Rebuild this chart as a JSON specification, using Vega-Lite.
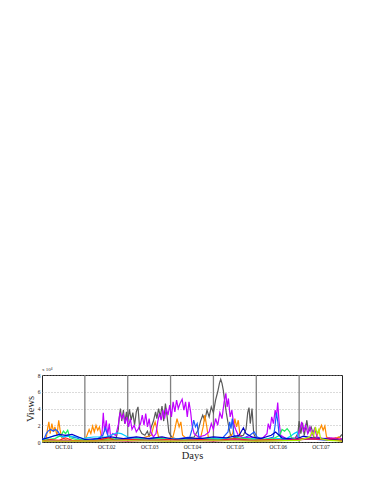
{
"$schema": "https://vega.github.io/schema/vega-lite/v6.json",
"width": 300, "height": 67,
"autosize": {"type": "none"},
"padding": {"left": 42, "top": 375, "right": 32, "bottom": 42},
"config": {"view": {"stroke": "#222", "strokeWidth": 1}, "font": "Liberation Serif"},
"title": {"text": "x 10⁴", "anchor": "start", "frame": "group", "fontSize": 5, "fontWeight": "normal", "color": "#333", "offset": 1.5, "font": "Liberation Serif"},
"encoding": {
  "x": {"field": "t", "type": "quantitative", "scale": {"domain": [0, 7], "nice": false},
        "axis": {"values": [0.5, 1.5, 2.5, 3.5, 4.5, 5.5, 6.5], "labelExpr": "'OCT.0' + (floor(datum.value) + 1)", "grid": false, "ticks": false, "domain": false, "labelFontSize": 5.5, "labelColor": "#222", "labelPadding": 2, "title": "Days", "titleFontSize": 10.5, "titleFontWeight": "normal", "titleColor": "#222", "titlePadding": 1, "labelFont": "Liberation Serif", "titleFont": "Liberation Serif"}}
},
"layer": [
{"data": {"values": [{"t": 1}, {"t": 2}, {"t": 3}, {"t": 4}, {"t": 5}, {"t": 6}]},
 "mark": {"type": "rule", "color": "#808080", "strokeWidth": 1.3},
 "encoding": {}},
{"data": {"values": [
{"s":"s01","t":0,"v":0.1},{"s":"s01","t":0.5,"v":0.15},{"s":"s01","t":1.0,"v":0.1},{"s":"s01","t":1.5,"v":0.2},{"s":"s01","t":1.72,"v":0.3},{"s":"s01","t":1.78,"v":1.5},{"s":"s01","t":1.8,"v":2.8},{"s":"s01","t":1.83,"v":4.0},{"s":"s01","t":1.86,"v":2.5},{"s":"s01","t":1.9,"v":3.8},{"s":"s01","t":1.93,"v":2.2},{"s":"s01","t":1.97,"v":3.6},{"s":"s01","t":2.0,"v":2.4},{"s":"s01","t":2.04,"v":3.9},{"s":"s01","t":2.08,"v":2.6},{"s":"s01","t":2.12,"v":3.5},{"s":"s01","t":2.16,"v":2.0},{"s":"s01","t":2.2,"v":3.6},{"s":"s01","t":2.24,"v":4.2},{"s":"s01","t":2.28,"v":1.5},{"s":"s01","t":2.33,"v":1.0},{"s":"s01","t":2.4,"v":0.8},{"s":"s01","t":2.46,"v":1.3},{"s":"s01","t":2.5,"v":0.6},{"s":"s01","t":2.55,"v":1.8},{"s":"s01","t":2.6,"v":2.5},{"s":"s01","t":2.65,"v":3.6},{"s":"s01","t":2.68,"v":2.8},{"s":"s01","t":2.72,"v":4.0},{"s":"s01","t":2.76,"v":3.0},{"s":"s01","t":2.8,"v":4.3},{"s":"s01","t":2.84,"v":2.5},{"s":"s01","t":2.88,"v":4.6},{"s":"s01","t":2.92,"v":3.0},{"s":"s01","t":2.96,"v":1.2},{"s":"s01","t":3.0,"v":0.8},{"s":"s01","t":3.05,"v":0.5},{"s":"s01","t":3.2,"v":0.3},{"s":"s01","t":3.4,"v":0.5},{"s":"s01","t":3.55,"v":0.6},{"s":"s01","t":3.65,"v":1.5},{"s":"s01","t":3.7,"v":2.5},{"s":"s01","t":3.75,"v":3.2},{"s":"s01","t":3.8,"v":2.6},{"s":"s01","t":3.85,"v":3.8},{"s":"s01","t":3.9,"v":3.0},{"s":"s01","t":3.95,"v":4.2},{"s":"s01","t":4.0,"v":3.5},{"s":"s01","t":4.05,"v":5.0},{"s":"s01","t":4.1,"v":6.0},{"s":"s01","t":4.14,"v":7.0},{"s":"s01","t":4.17,"v":7.5},{"s":"s01","t":4.2,"v":7.0},{"s":"s01","t":4.23,"v":6.2},{"s":"s01","t":4.26,"v":5.0},{"s":"s01","t":4.3,"v":3.5},{"s":"s01","t":4.35,"v":2.0},{"s":"s01","t":4.4,"v":0.8},{"s":"s01","t":4.5,"v":0.5},{"s":"s01","t":4.6,"v":0.7},{"s":"s01","t":4.7,"v":0.8},{"s":"s01","t":4.76,"v":1.5},{"s":"s01","t":4.8,"v":3.5},{"s":"s01","t":4.83,"v":4.1},{"s":"s01","t":4.86,"v":2.2},{"s":"s01","t":4.9,"v":4.0},{"s":"s01","t":4.94,"v":1.0},{"s":"s01","t":5.0,"v":0.3},{"s":"s01","t":5.3,"v":0.2},{"s":"s01","t":5.6,"v":0.3},{"s":"s01","t":5.9,"v":0.4},{"s":"s01","t":5.97,"v":1.0},{"s":"s01","t":6.0,"v":2.5},{"s":"s01","t":6.04,"v":1.0},{"s":"s01","t":6.08,"v":2.3},{"s":"s01","t":6.12,"v":0.8},{"s":"s01","t":6.18,"v":2.6},{"s":"s01","t":6.22,"v":1.2},{"s":"s01","t":6.28,"v":1.8},{"s":"s01","t":6.35,"v":0.5},{"s":"s01","t":6.5,"v":0.3},{"s":"s01","t":6.7,"v":0.5},{"s":"s01","t":6.8,"v":0.2},{"s":"s01","t":6.95,"v":0.6},{"s":"s01","t":7.0,"v":0.9},
{"s":"s02","t":0,"v":0.1},{"s":"s02","t":0.1,"v":0.5},{"s":"s02","t":0.13,"v":1.6},{"s":"s02","t":0.16,"v":2.4},{"s":"s02","t":0.19,"v":1.0},{"s":"s02","t":0.23,"v":2.2},{"s":"s02","t":0.27,"v":1.2},{"s":"s02","t":0.3,"v":1.8},{"s":"s02","t":0.35,"v":0.8},{"s":"s02","t":0.39,"v":2.6},{"s":"s02","t":0.42,"v":1.5},{"s":"s02","t":0.46,"v":0.5},{"s":"s02","t":0.6,"v":0.2},{"s":"s02","t":1.0,"v":0.2},{"s":"s02","t":1.05,"v":0.8},{"s":"s02","t":1.1,"v":1.5},{"s":"s02","t":1.14,"v":1.0},{"s":"s02","t":1.18,"v":1.9},{"s":"s02","t":1.22,"v":1.2},{"s":"s02","t":1.26,"v":2.0},{"s":"s02","t":1.3,"v":1.4},{"s":"s02","t":1.34,"v":1.8},{"s":"s02","t":1.38,"v":0.8},{"s":"s02","t":1.45,"v":0.3},{"s":"s02","t":2.0,"v":0.3},{"s":"s02","t":2.3,"v":0.4},{"s":"s02","t":2.55,"v":0.8},{"s":"s02","t":2.6,"v":1.8},{"s":"s02","t":2.64,"v":2.4},{"s":"s02","t":2.68,"v":1.5},{"s":"s02","t":2.72,"v":0.6},{"s":"s02","t":2.9,"v":0.4},{"s":"s02","t":3.05,"v":0.5},{"s":"s02","t":3.1,"v":1.5},{"s":"s02","t":3.15,"v":2.8},{"s":"s02","t":3.2,"v":1.8},{"s":"s02","t":3.24,"v":2.4},{"s":"s02","t":3.28,"v":0.8},{"s":"s02","t":3.4,"v":0.3},{"s":"s02","t":3.7,"v":0.5},{"s":"s02","t":3.76,"v":1.8},{"s":"s02","t":3.8,"v":3.2},{"s":"s02","t":3.84,"v":2.0},{"s":"s02","t":3.88,"v":0.6},{"s":"s02","t":4.0,"v":0.3},{"s":"s02","t":4.3,"v":0.4},{"s":"s02","t":4.45,"v":1.0},{"s":"s02","t":4.5,"v":2.8},{"s":"s02","t":4.54,"v":1.8},{"s":"s02","t":4.58,"v":2.6},{"s":"s02","t":4.62,"v":0.8},{"s":"s02","t":4.7,"v":0.3},{"s":"s02","t":5.0,"v":0.2},{"s":"s02","t":5.5,"v":0.3},{"s":"s02","t":6.0,"v":0.3},{"s":"s02","t":6.4,"v":0.6},{"s":"s02","t":6.48,"v":1.5},{"s":"s02","t":6.52,"v":2.0},{"s":"s02","t":6.56,"v":1.4},{"s":"s02","t":6.6,"v":1.9},{"s":"s02","t":6.64,"v":0.6},{"s":"s02","t":6.8,"v":0.3},{"s":"s02","t":6.92,"v":0.6},{"s":"s02","t":7.0,"v":0.3},
{"s":"s03","t":0,"v":0.1},{"s":"s03","t":0.5,"v":0.2},{"s":"s03","t":1.0,"v":0.15},{"s":"s03","t":1.35,"v":0.3},{"s":"s03","t":1.4,"v":1.0},{"s":"s03","t":1.43,"v":3.5},{"s":"s03","t":1.46,"v":1.2},{"s":"s03","t":1.5,"v":2.6},{"s":"s03","t":1.53,"v":0.8},{"s":"s03","t":1.57,"v":2.2},{"s":"s03","t":1.6,"v":0.6},{"s":"s03","t":1.65,"v":1.0},{"s":"s03","t":1.72,"v":0.8},{"s":"s03","t":1.78,"v":2.0},{"s":"s03","t":1.82,"v":3.5},{"s":"s03","t":1.86,"v":2.8},{"s":"s03","t":1.9,"v":3.3},{"s":"s03","t":1.94,"v":2.2},{"s":"s03","t":1.98,"v":3.0},{"s":"s03","t":2.02,"v":1.8},{"s":"s03","t":2.06,"v":2.8},{"s":"s03","t":2.1,"v":1.5},{"s":"s03","t":2.15,"v":2.0},{"s":"s03","t":2.2,"v":1.2},{"s":"s03","t":2.25,"v":1.6},{"s":"s03","t":2.3,"v":2.2},{"s":"s03","t":2.34,"v":3.2},{"s":"s03","t":2.38,"v":2.0},{"s":"s03","t":2.42,"v":3.4},{"s":"s03","t":2.46,"v":1.8},{"s":"s03","t":2.5,"v":2.8},{"s":"s03","t":2.54,"v":1.2},{"s":"s03","t":2.6,"v":0.6},{"s":"s03","t":2.66,"v":1.0},{"s":"s03","t":2.7,"v":2.4},{"s":"s03","t":2.74,"v":3.4},{"s":"s03","t":2.78,"v":2.6},{"s":"s03","t":2.82,"v":3.8},{"s":"s03","t":2.86,"v":2.8},{"s":"s03","t":2.9,"v":4.0},{"s":"s03","t":2.94,"v":3.2},{"s":"s03","t":2.98,"v":4.4},{"s":"s03","t":3.02,"v":3.0},{"s":"s03","t":3.06,"v":4.8},{"s":"s03","t":3.1,"v":3.6},{"s":"s03","t":3.14,"v":5.0},{"s":"s03","t":3.18,"v":4.0},{"s":"s03","t":3.22,"v":4.6},{"s":"s03","t":3.27,"v":5.1},{"s":"s03","t":3.31,"v":3.8},{"s":"s03","t":3.35,"v":4.8},{"s":"s03","t":3.39,"v":3.0},{"s":"s03","t":3.43,"v":4.8},{"s":"s03","t":3.47,"v":3.5},{"s":"s03","t":3.5,"v":2.0},{"s":"s03","t":3.55,"v":1.0},{"s":"s03","t":3.65,"v":0.6},{"s":"s03","t":3.8,"v":0.8},{"s":"s03","t":3.9,"v":1.2},{"s":"s03","t":3.95,"v":2.2},{"s":"s03","t":4.0,"v":1.5},{"s":"s03","t":4.05,"v":2.8},{"s":"s03","t":4.1,"v":2.0},{"s":"s03","t":4.15,"v":3.5},{"s":"s03","t":4.2,"v":2.8},{"s":"s03","t":4.25,"v":4.8},{"s":"s03","t":4.29,"v":5.8},{"s":"s03","t":4.32,"v":4.2},{"s":"s03","t":4.35,"v":5.2},{"s":"s03","t":4.39,"v":3.0},{"s":"s03","t":4.43,"v":3.8},{"s":"s03","t":4.47,"v":2.2},{"s":"s03","t":4.52,"v":1.5},{"s":"s03","t":4.58,"v":0.8},{"s":"s03","t":4.7,"v":0.5},{"s":"s03","t":4.9,"v":0.6},{"s":"s03","t":5.0,"v":0.4},{"s":"s03","t":5.15,"v":0.5},{"s":"s03","t":5.25,"v":1.0},{"s":"s03","t":5.28,"v":2.2},{"s":"s03","t":5.32,"v":1.5},{"s":"s03","t":5.36,"v":3.0},{"s":"s03","t":5.4,"v":2.2},{"s":"s03","t":5.44,"v":3.8},{"s":"s03","t":5.47,"v":3.0},{"s":"s03","t":5.5,"v":4.7},{"s":"s03","t":5.53,"v":2.5},{"s":"s03","t":5.57,"v":0.8},{"s":"s03","t":5.7,"v":0.4},{"s":"s03","t":5.95,"v":0.5},{"s":"s03","t":6.02,"v":1.5},{"s":"s03","t":6.06,"v":2.4},{"s":"s03","t":6.1,"v":1.2},{"s":"s03","t":6.15,"v":2.0},{"s":"s03","t":6.2,"v":1.0},{"s":"s03","t":6.25,"v":1.8},{"s":"s03","t":6.3,"v":0.8},{"s":"s03","t":6.36,"v":1.6},{"s":"s03","t":6.42,"v":0.6},{"s":"s03","t":6.55,"v":0.4},{"s":"s03","t":6.75,"v":0.5},{"s":"s03","t":6.9,"v":0.3},{"s":"s03","t":7.0,"v":0.4},
{"s":"s04","t":0,"v":0.2},{"s":"s04","t":0.06,"v":0.5},{"s":"s04","t":0.1,"v":1.0},{"s":"s04","t":0.14,"v":1.3},{"s":"s04","t":0.2,"v":1.5},{"s":"s04","t":0.26,"v":1.3},{"s":"s04","t":0.32,"v":1.5},{"s":"s04","t":0.38,"v":1.2},{"s":"s04","t":0.42,"v":0.8},{"s":"s04","t":0.5,"v":0.6},{"s":"s04","t":0.6,"v":0.8},{"s":"s04","t":0.7,"v":0.6},{"s":"s04","t":0.8,"v":0.5},{"s":"s04","t":0.9,"v":0.3},{"s":"s04","t":1.1,"v":0.2},{"s":"s04","t":1.3,"v":0.4},{"s":"s04","t":1.42,"v":0.8},{"s":"s04","t":1.48,"v":1.7},{"s":"s04","t":1.52,"v":1.0},{"s":"s04","t":1.56,"v":0.5},{"s":"s04","t":1.7,"v":0.3},{"s":"s04","t":2.0,"v":0.4},{"s":"s04","t":2.3,"v":0.3},{"s":"s04","t":2.6,"v":0.5},{"s":"s04","t":2.9,"v":0.3},{"s":"s04","t":3.2,"v":0.4},{"s":"s04","t":3.45,"v":0.6},{"s":"s04","t":3.5,"v":1.5},{"s":"s04","t":3.54,"v":2.6},{"s":"s04","t":3.58,"v":1.8},{"s":"s04","t":3.62,"v":2.2},{"s":"s04","t":3.66,"v":0.6},{"s":"s04","t":3.8,"v":0.3},{"s":"s04","t":4.2,"v":0.4},{"s":"s04","t":4.34,"v":1.2},{"s":"s04","t":4.38,"v":2.4},{"s":"s04","t":4.41,"v":1.6},{"s":"s04","t":4.44,"v":2.8},{"s":"s04","t":4.48,"v":0.8},{"s":"s04","t":4.6,"v":0.4},{"s":"s04","t":4.75,"v":0.6},{"s":"s04","t":4.85,"v":0.8},{"s":"s04","t":4.95,"v":1.2},{"s":"s04","t":5.02,"v":0.6},{"s":"s04","t":5.2,"v":0.3},{"s":"s04","t":5.4,"v":0.6},{"s":"s04","t":5.44,"v":2.0},{"s":"s04","t":5.47,"v":3.5},{"s":"s04","t":5.5,"v":2.5},{"s":"s04","t":5.53,"v":1.0},{"s":"s04","t":5.6,"v":0.3},{"s":"s04","t":5.9,"v":0.3},{"s":"s04","t":6.2,"v":0.5},{"s":"s04","t":6.4,"v":0.3},{"s":"s04","t":6.7,"v":0.2},{"s":"s04","t":7.0,"v":0.3},
{"s":"s05","t":0,"v":0.3},{"s":"s05","t":0.15,"v":0.5},{"s":"s05","t":0.3,"v":0.8},{"s":"s05","t":0.5,"v":0.6},{"s":"s05","t":0.6,"v":0.7},{"s":"s05","t":0.8,"v":0.6},{"s":"s05","t":0.97,"v":0.4},{"s":"s05","t":1.05,"v":0.5},{"s":"s05","t":1.2,"v":0.6},{"s":"s05","t":1.35,"v":0.6},{"s":"s05","t":1.5,"v":0.6},{"s":"s05","t":1.65,"v":0.9},{"s":"s05","t":1.75,"v":1.1},{"s":"s05","t":1.85,"v":1.0},{"s":"s05","t":2.0,"v":0.6},{"s":"s05","t":2.2,"v":0.5},{"s":"s05","t":2.5,"v":0.3},{"s":"s05","t":2.8,"v":0.4},{"s":"s05","t":3.1,"v":0.3},{"s":"s05","t":3.4,"v":0.4},{"s":"s05","t":3.7,"v":0.3},{"s":"s05","t":4.0,"v":0.5},{"s":"s05","t":4.3,"v":0.4},{"s":"s05","t":4.6,"v":0.3},{"s":"s05","t":4.9,"v":0.4},{"s":"s05","t":5.2,"v":0.3},{"s":"s05","t":5.5,"v":0.4},{"s":"s05","t":5.7,"v":0.4},{"s":"s05","t":5.8,"v":0.7},{"s":"s05","t":5.88,"v":1.0},{"s":"s05","t":5.95,"v":1.2},{"s":"s05","t":5.99,"v":0.5},{"s":"s05","t":6.1,"v":0.3},{"s":"s05","t":6.4,"v":0.4},{"s":"s05","t":6.7,"v":0.2},{"s":"s05","t":7.0,"v":0.3},
{"s":"s06","t":0,"v":0.2},{"s":"s06","t":0.3,"v":0.4},{"s":"s06","t":0.45,"v":0.8},{"s":"s06","t":0.5,"v":1.3},{"s":"s06","t":0.55,"v":1.0},{"s":"s06","t":0.6,"v":1.4},{"s":"s06","t":0.65,"v":0.5},{"s":"s06","t":0.8,"v":0.3},{"s":"s06","t":1.2,"v":0.2},{"s":"s06","t":1.6,"v":0.4},{"s":"s06","t":2.0,"v":0.3},{"s":"s06","t":2.6,"v":0.4},{"s":"s06","t":3.2,"v":0.3},{"s":"s06","t":3.8,"v":0.4},{"s":"s06","t":4.2,"v":0.3},{"s":"s06","t":4.6,"v":0.5},{"s":"s06","t":5.0,"v":0.3},{"s":"s06","t":5.4,"v":0.4},{"s":"s06","t":5.55,"v":0.8},{"s":"s06","t":5.6,"v":1.5},{"s":"s06","t":5.66,"v":1.3},{"s":"s06","t":5.72,"v":1.6},{"s":"s06","t":5.78,"v":1.2},{"s":"s06","t":5.82,"v":0.5},{"s":"s06","t":6.0,"v":0.3},{"s":"s06","t":6.5,"v":0.4},{"s":"s06","t":7.0,"v":0.2},
{"s":"s07","t":0,"v":0.3},{"s":"s07","t":0.2,"v":0.6},{"s":"s07","t":0.4,"v":0.9},{"s":"s07","t":0.55,"v":0.8},{"s":"s07","t":0.7,"v":0.9},{"s":"s07","t":0.85,"v":0.6},{"s":"s07","t":1.0,"v":0.3},{"s":"s07","t":1.3,"v":0.4},{"s":"s07","t":1.6,"v":0.6},{"s":"s07","t":1.9,"v":0.4},{"s":"s07","t":2.2,"v":0.6},{"s":"s07","t":2.5,"v":0.4},{"s":"s07","t":2.8,"v":0.6},{"s":"s07","t":3.1,"v":0.3},{"s":"s07","t":3.4,"v":0.5},{"s":"s07","t":3.7,"v":0.4},{"s":"s07","t":4.0,"v":0.6},{"s":"s07","t":4.3,"v":0.5},{"s":"s07","t":4.6,"v":0.8},{"s":"s07","t":4.7,"v":1.7},{"s":"s07","t":4.76,"v":1.0},{"s":"s07","t":4.9,"v":0.6},{"s":"s07","t":5.1,"v":0.4},{"s":"s07","t":5.35,"v":0.8},{"s":"s07","t":5.45,"v":1.2},{"s":"s07","t":5.6,"v":0.5},{"s":"s07","t":5.9,"v":0.3},{"s":"s07","t":6.1,"v":0.7},{"s":"s07","t":6.3,"v":0.5},{"s":"s07","t":6.6,"v":0.4},{"s":"s07","t":7.0,"v":0.2},
{"s":"s08","t":0,"v":0.1},{"s":"s08","t":0.2,"v":0.3},{"s":"s08","t":0.4,"v":0.2},{"s":"s08","t":0.55,"v":0.5},{"s":"s08","t":0.7,"v":0.2},{"s":"s08","t":1.0,"v":0.1},{"s":"s08","t":1.3,"v":0.2},{"s":"s08","t":1.55,"v":0.5},{"s":"s08","t":1.7,"v":0.2},{"s":"s08","t":2.1,"v":0.3},{"s":"s08","t":2.5,"v":0.2},{"s":"s08","t":2.9,"v":0.3},{"s":"s08","t":3.3,"v":0.2},{"s":"s08","t":3.7,"v":0.3},{"s":"s08","t":4.1,"v":0.2},{"s":"s08","t":4.5,"v":0.4},{"s":"s08","t":4.9,"v":0.2},{"s":"s08","t":5.3,"v":0.3},{"s":"s08","t":5.7,"v":0.2},{"s":"s08","t":6.1,"v":0.4},{"s":"s08","t":6.5,"v":0.3},{"s":"s08","t":6.9,"v":0.2},{"s":"s08","t":7.0,"v":0.1},
{"s":"s09","t":0,"v":0.05},{"s":"s09","t":0.5,"v":0.1},{"s":"s09","t":1.0,"v":0.05},{"s":"s09","t":1.5,"v":0.15},{"s":"s09","t":2.0,"v":0.1},{"s":"s09","t":2.5,"v":0.2},{"s":"s09","t":3.0,"v":0.1},{"s":"s09","t":3.5,"v":0.2},{"s":"s09","t":4.0,"v":0.1},{"s":"s09","t":4.5,"v":0.25},{"s":"s09","t":5.0,"v":0.1},{"s":"s09","t":5.5,"v":0.15},{"s":"s09","t":6.0,"v":0.25},{"s":"s09","t":6.3,"v":0.4},{"s":"s09","t":6.6,"v":0.3},{"s":"s09","t":6.85,"v":0.5},{"s":"s09","t":7.0,"v":0.2},
{"s":"s10","t":0,"v":0.1},{"s":"s10","t":1.0,"v":0.1},{"s":"s10","t":2.0,"v":0.15},{"s":"s10","t":3.0,"v":0.1},{"s":"s10","t":4.0,"v":0.15},{"s":"s10","t":5.0,"v":0.1},{"s":"s10","t":6.0,"v":0.2},{"s":"s10","t":6.25,"v":0.6},{"s":"s10","t":6.3,"v":1.2},{"s":"s10","t":6.34,"v":0.8},{"s":"s10","t":6.38,"v":1.8},{"s":"s10","t":6.42,"v":1.0},{"s":"s10","t":6.46,"v":1.5},{"s":"s10","t":6.5,"v":0.4},{"s":"s10","t":6.7,"v":0.2},{"s":"s10","t":7.0,"v":0.1}
]},
 "mark": {"type": "line", "strokeWidth": 1.2, "clip": true},
 "encoding": {
  "y": {"field": "v", "type": "quantitative", "scale": {"domain": [0, 8], "nice": false},
        "axis": {"values": [0, 2, 4, 6, 8], "grid": true, "gridDash": [1, 2], "gridColor": "#999", "gridWidth": 0.7, "ticks": false, "domain": false, "labelFontSize": 5.5, "labelColor": "#222", "labelPadding": 2, "title": "Views", "titleFontSize": 10.5, "titleFontWeight": "normal", "titleColor": "#222", "titlePadding": 2, "labelFont": "Liberation Serif", "titleFont": "Liberation Serif"}},
  "color": {"field": "s", "type": "nominal", "legend": null,
            "scale": {"domain": ["s01", "s02", "s03", "s04", "s05", "s06", "s07", "s08", "s09", "s10"],
                      "range": ["#5a5a5a", "#ff8c00", "#c000ff", "#1a5cff", "#00ccff", "#20ee60", "#0000c8", "#ff2020", "#e0008c", "#b0f000"]}}
 }}
]
}
